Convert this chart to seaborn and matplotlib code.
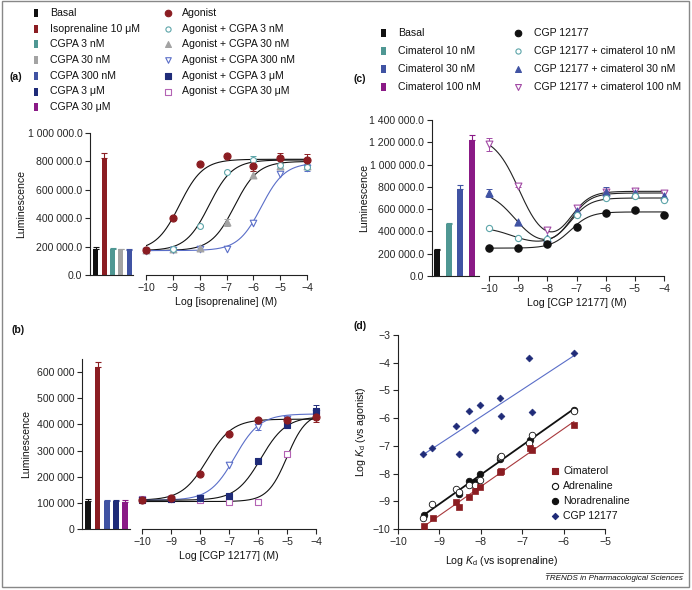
import numpy as np
import pandas as pd
import matplotlib
matplotlib.use('Agg')
import matplotlib.pyplot as plt
from matplotlib.patches import Rectangle
import seaborn as sns

# ── Data ─────────────────────────────────────────────────────
X_LOG = [-10, -9, -8, -7, -6, -5, -4]

# (a) isoprenaline +/- CGPA
a_bar_labels = ['Basal', 'Isoprenaline 10 μM', 'CGPA 3 nM', 'CGPA 30 nM', 'CGPA 300 nM']
a_bar_values = [185000, 822000, 183000, 180000, 176000]
a_bar_errors = [12000, 38000, 4000, 3000, 4000]
a_agonist = [175000, 400000, 780000, 840000, 770000, 825000, 810000]
a_agonist_err = [0, 0, 0, 0, 35000, 35000, 40000]
a_cgpa3n = [174000, 182000, 345000, 725000, 810000, 775000, 760000]
a_cgpa3n_err = [0, 0, 0, 0, 30000, 0, 0]
a_cgpa30n = [174000, 180000, 190000, 370000, 705000, 770000, 770000]
a_cgpa30n_err = [0, 0, 0, 25000, 25000, 0, 0]
a_cgpa300n = [170000, 178000, 180000, 185000, 365000, 710000, 755000]
a_cgpa300n_err = [0, 0, 0, 0, 0, 0, 25000]
a_fit_bottom = [172000, 172000, 172000, 172000]
a_fit_top = [815000, 810000, 800000, 790000]
a_fit_logec50 = [-8.75, -7.65, -6.7, -5.7]

# (b) CGP 12177 +/- CGPA
b_bar_labels = ['Basal', 'Isoprenaline 10 μM', 'CGPA 300 nM', 'CGPA 3 μM', 'CGPA 30 μM']
b_bar_values = [108000, 618000, 108000, 108000, 105000]
b_bar_errors = [7000, 22000, 2000, 2000, 7000]
b_agonist = [110000, 118000, 210000, 365000, 415000, 418000, 430000]
b_agonist_err = [0, 0, 0, 0, 0, 0, 20000]
b_cgpa300n = [112000, 115000, 118000, 245000, 390000, 420000, 445000]
b_cgpa300n_err = [0, 0, 0, 0, 12000, 0, 0]
b_cgpa3u = [112000, 116000, 118000, 125000, 260000, 398000, 452000]
b_cgpa3u_err = [0, 0, 0, 0, 0, 0, 22000]
b_cgpa30u = [114000, 116000, 110000, 105000, 102000, 288000, 445000]
b_cgpa30u_err = [0, 0, 0, 0, 0, 0, 0]
b_fit_bottom = [110000, 110000, 110000, 105000]
b_fit_top = [420000, 440000, 430000, 445000]
b_fit_logec50 = [-7.75, -6.8, -5.9, -5.0]
b_fit_slope = [1.0, 1.0, 1.0, 1.3]

# (c) CGP 12177 +/- cimaterol
c_bar_labels = ['Basal', 'Cimaterol 10 nM', 'Cimaterol 30 nM', 'Cimaterol 100 nM']
c_bar_values = [232000, 465000, 785000, 1220000]
c_bar_errors = [12000, 10000, 35000, 45000]
c_cgp = [248000, 254000, 287000, 443000, 568000, 592000, 547000]
c_cim10 = [434000, 344000, 330000, 547000, 697000, 715000, 682000]
c_cim30 = [742000, 488000, 338000, 586000, 757000, 742000, 721000]
c_cim30_err = [35000, 0, 0, 0, 45000, 0, 0]
c_cim100 = [1181000, 811000, 413000, 607000, 757000, 766000, 742000]
c_cim100_err = [55000, 15000, 0, 0, 0, 0, 0]
c_fit_left = [250000, 440000, 770000, 1260000]
c_fit_base = [250000, 280000, 250000, 260000]
c_fit_plateau = [575000, 700000, 745000, 760000]
c_fit_logic50 = [-9.2, -9.2, -9.1, -8.95]
c_fit_logec50 = [-7.2, -7.2, -7.2, -7.2]

# (d) Log Kd comparison
d_cim_x = [-9.38, -9.16, -8.61, -8.52, -8.29, -8.13, -8.02, -7.54, -7.50, -6.81, -6.77, -5.75]
d_cim_y = [-9.90, -9.62, -9.02, -9.21, -8.85, -8.64, -8.49, -7.96, -7.90, -7.06, -7.15, -6.25]
d_adr_x = [-9.40, -9.17, -8.61, -8.53, -8.29, -8.15, -8.02, -7.54, -7.50, -6.83, -6.77, -5.76]
d_adr_y = [-9.59, -9.10, -8.55, -8.66, -8.40, -8.42, -8.22, -7.41, -7.35, -6.90, -6.60, -5.73]
d_nor_x = [-9.38, -8.53, -8.29, -8.15, -8.03, -7.53, -6.81, -5.76]
d_nor_y = [-9.48, -8.73, -8.27, -8.32, -8.03, -7.46, -6.78, -5.70]
d_cgp_x = [-9.40, -9.17, -8.61, -8.53, -8.29, -8.15, -8.03, -7.54, -7.50, -6.83, -6.77, -5.76]
d_cgp_y = [-7.28, -7.06, -6.27, -7.28, -5.73, -6.43, -5.52, -5.26, -5.93, -3.82, -5.79, -3.66]

# ── Style ────────────────────────────────────────────────────
BLACK = '#111111'
DRED = '#8B1D22'
TEAL = '#4F9793'
GRAY = '#A3A3A3'
BLUE = '#4053A3'
NAVY = '#1F2B78'
PURPLE = '#8A1A86'
LBLUE = '#5A6EC8'
LPURPLE = '#B463B4'
TEAL_OPEN = '#5DA5A9'
PURPLE_OPEN = '#A24AA5'

sns.set_theme(style='ticks')
plt.rcParams.update({
    'font.family': ['Liberation Sans', 'DejaVu Sans'],
    'font.size': 7.6,
    'axes.labelsize': 7.6,
    'xtick.labelsize': 7.6,
    'ytick.labelsize': 7.6,
    'axes.linewidth': 0.8,
    'axes.edgecolor': '#222222',
    'xtick.major.size': 3.5,
    'ytick.major.size': 3.5,
    'xtick.major.width': 0.8,
    'ytick.major.width': 0.8,
    'xtick.major.pad': 2,
    'ytick.major.pad': 2,
    'axes.labelcolor': '#111111',
    'text.color': '#111111',
    'mathtext.fontset': 'custom',
    'mathtext.rm': 'Liberation Sans',
    'mathtext.it': 'Liberation Sans:italic',
})

W, H = 692, 590
fig = plt.figure(figsize=(W / 100, H / 100), dpi=100)


def px_axes(x0, y_top, x1, y_bot):
    return fig.add_axes([x0 / W, 1 - y_bot / H, (x1 - x0) / W, (y_bot - y_top) / H])


def fmt_dec(v):
    return f'{v:,.1f}'.replace(',', ' ')


def fmt_int(v):
    return f'{v:,.0f}'.replace(',', ' ')


def hill(x, bottom, top, logec50, slope=1.0):
    return bottom + (top - bottom) / (1 + 10 ** ((logec50 - x) * slope))


def two_site(x, left, base, plateau, logic50, logec50, slope2=1.3):
    f1 = 1 / (1 + 10 ** (logic50 - x))
    f2 = 1 / (1 + 10 ** ((logec50 - x) * slope2))
    return left * (1 - f1) + base * f1 + (plateau - base) * f2


def draw_bars(ax, labels, values, errors, colors, width, ylim, yticks, fmt, xlim, labelpad):
    df = pd.DataFrame({'cond': labels, 'lum': values})
    sns.barplot(data=df, x='cond', y='lum', hue='cond', palette=colors, legend=False,
                width=width, saturation=1, errorbar=None, linewidth=0, ax=ax)
    for i, (v, e, c) in enumerate(zip(values, errors, colors)):
        ax.errorbar(i, v, yerr=[[0], [e]], fmt='none', ecolor=c, elinewidth=0.8,
                    capsize=2, capthick=0.8)
    ax.set_xlim(*xlim)
    ax.set_ylim(*ylim)
    ax.set_yticks(yticks)
    ax.set_yticklabels([fmt(t) for t in yticks])
    ax.set_xticks([])
    ax.set_xlabel('')
    ax.set_ylabel('Luminescence', labelpad=labelpad)
    ax.patch.set_alpha(0)
    sns.despine(ax=ax)


def setup_curve_axes(ax, ylim, xlabel):
    ax.set_xlim(-10, -4)
    ax.set_ylim(*ylim)
    ax.set_xticks(X_LOG)
    ax.set_xticklabels([f'\u2212{abs(v)}' for v in X_LOG])
    ax.set_yticks([])
    ax.set_xlabel(xlabel, labelpad=3)
    ax.patch.set_alpha(0)
    sns.despine(ax=ax, left=True)


def draw_series(ax, y, err, marker, face, edge, size=24, lw=0.8):
    sns.scatterplot(x=X_LOG, y=y, marker=marker, s=size, facecolor=face, edgecolor=edge,
                    linewidth=lw, ax=ax, clip_on=False, zorder=4)
    e = np.array(err)
    m = e > 0
    if m.any():
        ax.errorbar(np.array(X_LOG)[m], np.array(y)[m], yerr=e[m], fmt='none', ecolor=edge,
                    elinewidth=0.7, capsize=2, capthick=0.7, zorder=3, clip_on=False)


xs = np.linspace(-10, -4, 300)

# ── (a) ──────────────────────────────────────────────────────
ax_ab = px_axes(90, 133, 133, 275)
draw_bars(ax_ab, a_bar_labels, a_bar_values, a_bar_errors, [BLACK, DRED, TEAL, GRAY, BLUE],
          0.6, (0, 1e6), np.arange(0, 1000001, 200000), fmt_dec, (-0.72, 4.46), 1)

ax_ac = px_axes(146, 133, 307, 275)
for bot, top, ec, col in zip(a_fit_bottom, a_fit_top, a_fit_logec50, [BLACK, BLACK, BLACK, LBLUE]):
    sns.lineplot(x=xs, y=hill(xs, bot, top, ec), color=col, lw=0.8, estimator=None, ax=ax_ac)
draw_series(ax_ac, a_cgpa300n, a_cgpa300n_err, 'v', 'white', LBLUE, 22)
draw_series(ax_ac, a_cgpa30n, a_cgpa30n_err, '^', GRAY, GRAY, 24)
draw_series(ax_ac, a_cgpa3n, a_cgpa3n_err, 'o', 'white', TEAL_OPEN, 18)
draw_series(ax_ac, a_agonist, a_agonist_err, 'o', DRED, DRED, 26)
setup_curve_axes(ax_ac, (0, 1e6), 'Log [isoprenaline] (M)')

# ── (b) ──────────────────────────────────────────────────────
ax_bb = px_axes(82, 359, 130, 529)
draw_bars(ax_bb, b_bar_labels, b_bar_values, b_bar_errors, [BLACK, DRED, BLUE, NAVY, PURPLE],
          0.62, (0, 650000), np.arange(0, 600001, 100000), fmt_int, (-0.68, 4.5), 4)

ax_bc = px_axes(142, 359, 316, 529)
for bot, top, ec, sl, col in zip(b_fit_bottom, b_fit_top, b_fit_logec50, b_fit_slope,
                                 [BLACK, LBLUE, BLACK, BLACK]):
    sns.lineplot(x=xs, y=hill(xs, bot, top, ec, sl), color=col, lw=0.8, estimator=None, ax=ax_bc)
draw_series(ax_bc, b_cgpa30u, b_cgpa30u_err, 's', 'white', LPURPLE, 20)
draw_series(ax_bc, b_cgpa300n, b_cgpa300n_err, 'v', 'white', LBLUE, 22)
draw_series(ax_bc, b_cgpa3u, b_cgpa3u_err, 's', NAVY, NAVY, 24)
draw_series(ax_bc, b_agonist, b_agonist_err, 'o', DRED, DRED, 26)
setup_curve_axes(ax_bc, (0, 650000), 'Log [CGP 12177] (M)')

# ── (c) ──────────────────────────────────────────────────────
ax_cb = px_axes(432, 120, 479, 276)
draw_bars(ax_cb, c_bar_labels, c_bar_values, c_bar_errors, [BLACK, TEAL, BLUE, PURPLE],
          0.52, (0, 1.4e6), np.arange(0, 1400001, 200000), fmt_dec, (-0.43, 3.6), 0)

ax_cc = px_axes(489, 120, 664, 276)
for le, ba, pl, ic, ec in zip(c_fit_left, c_fit_base, c_fit_plateau, c_fit_logic50, c_fit_logec50):
    sns.lineplot(x=xs, y=two_site(xs, le, ba, pl, ic, ec), color='#222222', lw=0.8,
                 estimator=None, ax=ax_cc)
draw_series(ax_cc, c_cim100, c_cim100_err, 'v', 'white', PURPLE_OPEN, 24)
draw_series(ax_cc, c_cim30, c_cim30_err, '^', BLUE, BLUE, 26)
draw_series(ax_cc, c_cim10, [0] * 7, 'o', 'white', TEAL_OPEN, 20)
draw_series(ax_cc, c_cgp, [0] * 7, 'o', BLACK, BLACK, 28)
setup_curve_axes(ax_cc, (0, 1.4e6), 'Log [CGP 12177] (M)')

# ── (d) ──────────────────────────────────────────────────────
ax_d = px_axes(398, 335, 605, 529)
sns.regplot(x=d_cgp_x, y=d_cgp_y, ci=None, scatter=False, color=LBLUE, line_kws={'lw': 0.8}, ax=ax_d)
sns.regplot(x=d_adr_x + d_nor_x, y=d_adr_y + d_nor_y, ci=None, scatter=False, color=BLACK,
            line_kws={'lw': 1.3}, ax=ax_d)
sns.regplot(x=d_cim_x, y=d_cim_y, ci=None, scatter=False, color='#A8383C', line_kws={'lw': 0.8}, ax=ax_d)
sns.scatterplot(x=d_cgp_x, y=d_cgp_y, marker='D', s=12, color=NAVY, edgecolor=NAVY, linewidth=0.5,
                ax=ax_d, clip_on=False, zorder=4)
sns.scatterplot(x=d_nor_x, y=d_nor_y, marker='o', s=22, color=BLACK, edgecolor=BLACK, linewidth=0.6,
                ax=ax_d, clip_on=False, zorder=4)
sns.scatterplot(x=d_adr_x, y=d_adr_y, marker='o', s=22, facecolor='white', edgecolor=BLACK,
                linewidth=0.6, ax=ax_d, clip_on=False, zorder=5)
sns.scatterplot(x=d_cim_x, y=d_cim_y, marker='s', s=22, color=DRED, edgecolor=DRED, linewidth=0.5,
                ax=ax_d, clip_on=False, zorder=6)
ax_d.set_xlim(-10, -5)
ax_d.set_ylim(-10, -3)
ax_d.set_xticks(range(-10, -4))
ax_d.set_yticks(range(-10, -2))
ax_d.set_xlabel('Log $K_{\\mathrm{d}}$ (vs isoprenaline)', labelpad=5)
ax_d.set_ylabel('Log $K_{\\mathrm{d}}$ (vs agonist)', labelpad=3)
ax_d.patch.set_alpha(0)
sns.despine(ax=ax_d)

# ── Overlay: legends, panel letters, frame ───────────────────
ov = fig.add_axes([0, 0, 1, 1])
ov.set_xlim(0, W)
ov.set_ylim(H, 0)
ov.axis('off')


def swatch(x, y, color):
    ov.add_patch(Rectangle((x - 2.2, y - 4), 4.4, 8, color=color, lw=0))


def mark(x, y, marker, face, edge, size):
    ov.scatter([x], [y], marker=marker, s=size, facecolor=face, edgecolor=edge, linewidth=0.8)


# legend (a)
a_leg_left = ['Basal', 'Isoprenaline 10 μM', 'CGPA 3 nM', 'CGPA 30 nM', 'CGPA 300 nM',
              'CGPA 3 μM', 'CGPA 30 μM']
a_leg_left_col = [BLACK, DRED, TEAL, GRAY, BLUE, NAVY, PURPLE]
for i, (lab, col) in enumerate(zip(a_leg_left, a_leg_left_col)):
    y = 13 + i * 15.7
    swatch(36, y, col)
    ov.text(50, y, lab, va='center', ha='left')
a_leg_right = ['Agonist', 'Agonist + CGPA 3 nM', 'Agonist + CGPA 30 nM', 'Agonist + CGPA 300 nM',
               'Agonist + CGPA 3 μM', 'Agonist + CGPA 30 μM']
a_leg_right_mk = [('o', DRED, DRED, 22), ('o', 'white', TEAL_OPEN, 14), ('^', GRAY, GRAY, 18),
                  ('v', 'white', LBLUE, 16), ('s', NAVY, NAVY, 16), ('s', 'white', LPURPLE, 14)]
for i, (lab, mk) in enumerate(zip(a_leg_right, a_leg_right_mk)):
    y = 13 + i * 15.7
    mark(168, y, *mk)
    ov.text(182, y, lab, va='center', ha='left')
ov.text(9, 77, '(a)', va='center', ha='left', fontweight='bold')

# legend (c)
c_leg_left = ['Basal', 'Cimaterol 10 nM', 'Cimaterol 30 nM', 'Cimaterol 100 nM']
c_leg_left_col = [BLACK, TEAL, BLUE, PURPLE]
for i, (lab, col) in enumerate(zip(c_leg_left, c_leg_left_col)):
    y = 33.3 + i * 18
    swatch(383.5, y, col)
    ov.text(398, y, lab, va='center', ha='left')
c_leg_right = ['CGP 12177', 'CGP 12177 + cimaterol 10 nM', 'CGP 12177 + cimaterol 30 nM',
               'CGP 12177 + cimaterol 100 nM']
c_leg_right_mk = [('o', BLACK, BLACK, 22), ('o', 'white', TEAL_OPEN, 14), ('^', BLUE, BLUE, 18),
                  ('v', 'white', PURPLE_OPEN, 18)]
for i, (lab, mk) in enumerate(zip(c_leg_right, c_leg_right_mk)):
    y = 33.3 + i * 18
    mark(518, y, *mk)
    ov.text(534, y, lab, va='center', ha='left')
ov.text(353, 79, '(c)', va='center', ha='left', fontweight='bold')

ov.text(11, 330, '(b)', va='center', ha='left', fontweight='bold')
ov.text(353, 326, '(d)', va='center', ha='left', fontweight='bold')

# legend (d)
d_leg = ['Cimaterol', 'Adrenaline', 'Noradrenaline', 'CGP 12177']
d_leg_mk = [('s', DRED, DRED, 20), ('o', 'white', BLACK, 20), ('o', BLACK, BLACK, 20),
            ('D', NAVY, NAVY, 10)]
for i, (lab, mk) in enumerate(zip(d_leg, d_leg_mk)):
    y = 471 + i * 15
    mark(555, y, *mk)
    ov.text(563, y, lab, va='center', ha='left')

ov.plot([546, 683], [573, 573], color='#444444', lw=0.6)
ov.text(683, 579, 'TRENDS in Pharmacological Sciences', ha='right', va='center',
        fontsize=5.8, style='italic')
ov.add_patch(Rectangle((1.5, 0.5), 687.5, 586.5, fill=False, ec='#888888', lw=1))

fig.savefig('out.png', dpi=100)
